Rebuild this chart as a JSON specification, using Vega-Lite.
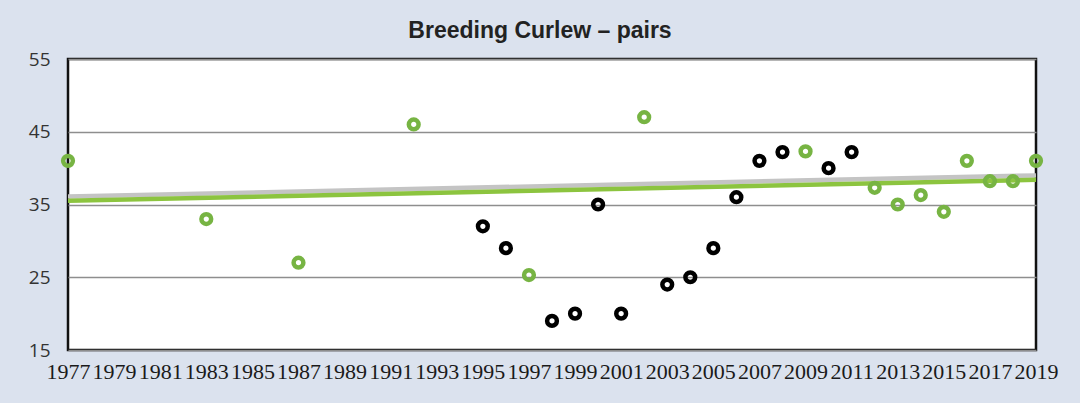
{
  "$schema": "https://vega.github.io/schema/vega-lite/v6.json",
  "width": 968,
  "height": 291,
  "autosize": {"type": "none"},
  "padding": {"left": 68, "top": 59, "right": 44, "bottom": 53},
  "background": "#dbe2ee",
  "title": {
    "text": "Breeding Curlew – pairs",
    "font": "Liberation Sans",
    "fontSize": 23,
    "fontWeight": "bold",
    "color": "#222222",
    "anchor": "middle",
    "frame": "group",
    "baseline": "alphabetic",
    "offset": 20,
    "dx": -12,
    "dy": 31
  },
  "config": {
    "view": {"fill": "white", "stroke": "#111111", "strokeWidth": 2.5}
  },
  "datasets": {
    "counts": [
      {"year": 1977, "pairs": 41, "series": "green"},
      {"year": 1983, "pairs": 33, "series": "green"},
      {"year": 1987, "pairs": 27, "series": "green"},
      {"year": 1992, "pairs": 46, "series": "green"},
      {"year": 1995, "pairs": 32, "series": "black"},
      {"year": 1996, "pairs": 29, "series": "black"},
      {"year": 1997, "pairs": 25.3, "series": "green"},
      {"year": 1998, "pairs": 19, "series": "black"},
      {"year": 1999, "pairs": 20, "series": "black"},
      {"year": 2000, "pairs": 35, "series": "black"},
      {"year": 2001, "pairs": 20, "series": "black"},
      {"year": 2002, "pairs": 47, "series": "green"},
      {"year": 2003, "pairs": 24, "series": "black"},
      {"year": 2004, "pairs": 25, "series": "black"},
      {"year": 2005, "pairs": 29, "series": "black"},
      {"year": 2006, "pairs": 36, "series": "black"},
      {"year": 2007, "pairs": 41, "series": "black"},
      {"year": 2008, "pairs": 42.2, "series": "black"},
      {"year": 2009, "pairs": 42.3, "series": "green"},
      {"year": 2010, "pairs": 40, "series": "black"},
      {"year": 2011, "pairs": 42.2, "series": "black"},
      {"year": 2012, "pairs": 37.3, "series": "green"},
      {"year": 2013, "pairs": 35, "series": "green"},
      {"year": 2014, "pairs": 36.3, "series": "green"},
      {"year": 2015, "pairs": 34, "series": "green"},
      {"year": 2016, "pairs": 41, "series": "green"},
      {"year": 2017, "pairs": 38.2, "series": "green"},
      {"year": 2018, "pairs": 38.2, "series": "green"},
      {"year": 2019, "pairs": 41, "series": "green"}
    ],
    "trend": [
      {"year": 1977, "pairs": 36.1, "line": "shadow"},
      {"year": 2019, "pairs": 39.0, "line": "shadow"},
      {"year": 1977, "pairs": 35.5, "line": "trend"},
      {"year": 2019, "pairs": 38.4, "line": "trend"}
    ]
  },
  "layer": [
    {
      "data": {"name": "trend"},
      "mark": {"type": "line", "strokeWidth": 4.5, "clip": true},
      "encoding": {
        "x": {
          "field": "year", "type": "quantitative",
          "scale": {"domain": [1977, 2019], "nice": false, "zero": false},
          "axis": {
            "title": null,
            "values": [1977,1979,1981,1983,1985,1987,1989,1991,1993,1995,1997,1999,2001,2003,2005,2007,2009,2011,2013,2015,2017,2019],
            "format": "d",
            "grid": false,
            "ticks": false,
            "domain": false,
            "labelFont": "Liberation Serif",
            "labelFontSize": 22,
            "labelColor": "#1a1a1a",
            "labelPadding": 11,
            "labelOverlap": false,
            "labelFlush": false,
            "labelBound": false
          }
        },
        "y": {
          "field": "pairs", "type": "quantitative",
          "scale": {"domain": [15, 55], "nice": false, "zero": false},
          "axis": {
            "title": null,
            "values": [15, 25, 35, 45, 55],
            "grid": true,
            "gridColor": "#8e8e8e",
            "gridWidth": 1.5,
            "ticks": false,
            "domain": false,
            "labelFont": "Open Sans",
            "labelFontSize": 19,
            "labelColor": "#333333",
            "labelPadding": 18
          }
        },
        "color": {
          "field": "line", "type": "nominal",
          "scale": {"domain": ["shadow", "trend"], "range": ["#c4c4c4", "#8cc43f"]},
          "legend": null
        },
        "order": {"field": "line"}
      }
    },
    {
      "data": {"name": "counts"},
      "mark": {"type": "point", "shape": "circle", "filled": false, "size": 95, "strokeWidth": 4.5, "opacity": 1},
      "encoding": {
        "x": {"field": "year", "type": "quantitative"},
        "y": {"field": "pairs", "type": "quantitative"},
        "stroke": {
          "field": "series", "type": "nominal",
          "scale": {"domain": ["green", "black"], "range": ["#77b443", "#000000"]},
          "legend": null
        }
      }
    }
  ]
}
